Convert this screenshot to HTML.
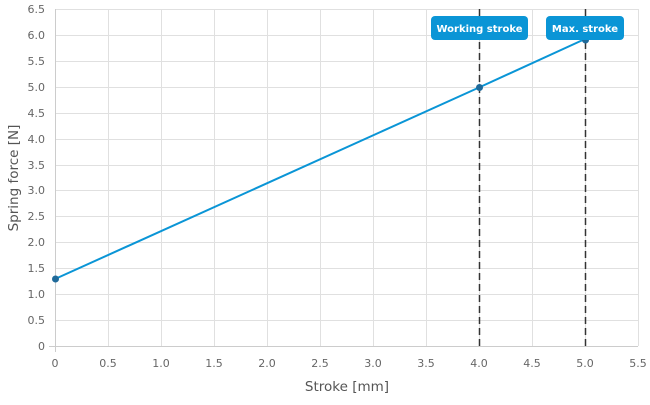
<!DOCTYPE html><html><head><style>body{margin:0;background:#fff}svg{font-family:"DejaVu Sans","Liberation Sans",sans-serif}</style></head><body>
<svg width="650" height="400" xmlns="http://www.w3.org/2000/svg">
<g stroke="#e0e0e0" stroke-width="1">
<path d="M108.5 9V346M161.5 9V346M214.5 9V346M267.5 9V346M320.5 9V346M373.5 9V346M426.5 9V346M479.5 9V346M532.5 9V346M585.5 9V346M638.5 9V346"/>
<path d="M55 9.5H638M55 35.5H638M55 61.5H638M55 87.5H638M55 113.5H638M55 139.5H638M55 165.5H638M55 190.5H638M55 216.5H638M55 242.5H638M55 268.5H638M55 294.5H638M55 320.5H638"/>
</g>
<g stroke="#ccc"><path d="M55.5 9V352M49 346.5H638"/></g>
<g fill="#666" font-size="11" text-anchor="end">
<text x="45" y="13">6.5</text><text x="45" y="39">6.0</text><text x="45" y="65">5.5</text><text x="45" y="91">5.0</text><text x="45" y="117">4.5</text><text x="45" y="143">4.0</text><text x="45" y="169">3.5</text><text x="45" y="194">3.0</text><text x="45" y="220">2.5</text><text x="45" y="246">2.0</text><text x="45" y="272">1.5</text><text x="45" y="298">1.0</text><text x="45" y="324">0.5</text><text x="45" y="350">0</text>
</g>
<g fill="#666" font-size="11" text-anchor="middle">
<text x="55" y="367">0</text><text x="108" y="367">0.5</text><text x="161" y="367">1.0</text><text x="214" y="367">1.5</text><text x="267" y="367">2.0</text><text x="320" y="367">2.5</text><text x="373" y="367">3.0</text><text x="426" y="367">3.5</text><text x="479" y="367">4.0</text><text x="532" y="367">4.5</text><text x="585" y="367">5.0</text><text x="638" y="367">5.5</text>
</g>
<text x="347" y="391" font-size="13.5" fill="#555" text-anchor="middle">Stroke [mm]</text>
<text transform="translate(18 178) rotate(-90)" font-size="13.5" fill="#555" text-anchor="middle">Spring force [N]</text>
<g stroke="#333" stroke-width="1.5" stroke-dasharray="7,4"><path d="M479.5 9V346M585.5 9V346"/></g>
<path d="M55 279L479 87.5L585 39" stroke="#0a95d6" stroke-width="2" fill="none"/>
<g fill="#1f6a9a"><circle cx="55.5" cy="279" r="3.5"/><circle cx="479.5" cy="87.5" r="3.5"/><circle cx="585.5" cy="40" r="3.5"/></g>
<rect x="431" y="16" width="97" height="24" rx="4" fill="#0a95d6"/>
<rect x="546" y="16" width="78" height="24" rx="4" fill="#0a95d6"/>
<g fill="#fff" font-size="10" font-weight="bold" text-anchor="middle"><text x="479.5" y="32">Working stroke</text><text x="585" y="32">Max. stroke</text></g>
</svg></body></html>
